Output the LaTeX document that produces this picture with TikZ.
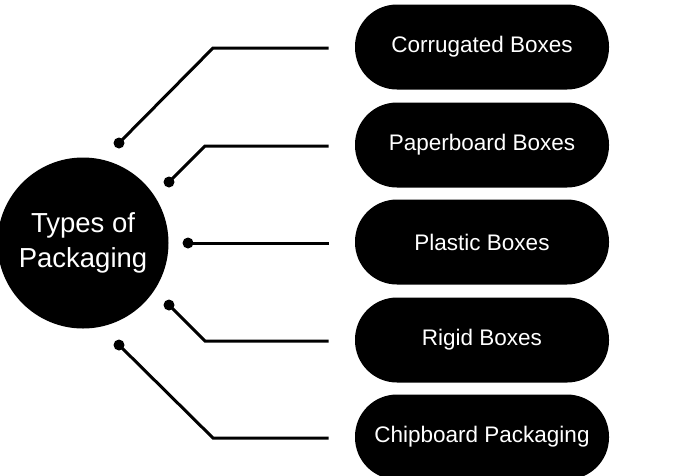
\documentclass[tikz,border=0pt]{standalone}
\usepackage{fontspec}
\setmainfont{Liberation Sans}

\begin{document}
\begin{tikzpicture}[x=1pt, y=-1pt, line width=3pt]
		\tikzstyle{pill}=[fill=black, text=white, rectangle, rounded corners=42pt, minimum width=254pt, minimum height=85pt, font=\fontsize{22.5}{26}\selectfont]
		\tikzstyle{dot}=[fill=black, circle, inner sep=0pt, minimum size=11pt]
		\useasboundingbox (0,0) rectangle (684,475);
		\draw (83,243) node[fill=black, circle, inner sep=0pt, minimum size=171pt, text=white, align=center, font=\fontsize{27.5}{35}\selectfont] (T) {Types of\\Packaging};
	
		\draw (482,47) node[pill] (P1) {Corrugated Boxes};
		\draw (482,145) node[pill] (P2) {Paperboard Boxes};
		\draw (482,242) node[pill] (P3) {Plastic Boxes};
		\draw (482,340) node[pill] (P4) {Rigid Boxes};
		\draw (482,437) node[pill] (P5) {Chipboard Packaging};
	
		\draw (119,143) node[dot] (D1) {};
		\draw (169,182) node[dot] (D2) {};
		\draw (188,243) node[dot] (D3) {};
		\draw (169,305) node[dot] (D4) {};
		\draw (119,345) node[dot] (D5) {};
	
		\coordinate (K1) at (213,48);
		\coordinate (K2) at (205,146);
		\coordinate (K4) at (205,341);
		\coordinate (K5) at (213,438);
	
		\draw[shorten >=25pt] (D1.center) -- (K1) -- (K1 -| P1.west);
		\draw[shorten >=25pt] (D2.center) -- (K2) -- (K2 -| P2.west);
		\draw[shorten >=25pt] (D3.center) -- (D3 -| P3.west);
		\draw[shorten >=25pt] (D4.center) -- (K4) -- (K4 -| P4.west);
		\draw[shorten >=25pt] (D5.center) -- (K5) -- (K5 -| P5.west);
	\end{tikzpicture}
\end{document}
